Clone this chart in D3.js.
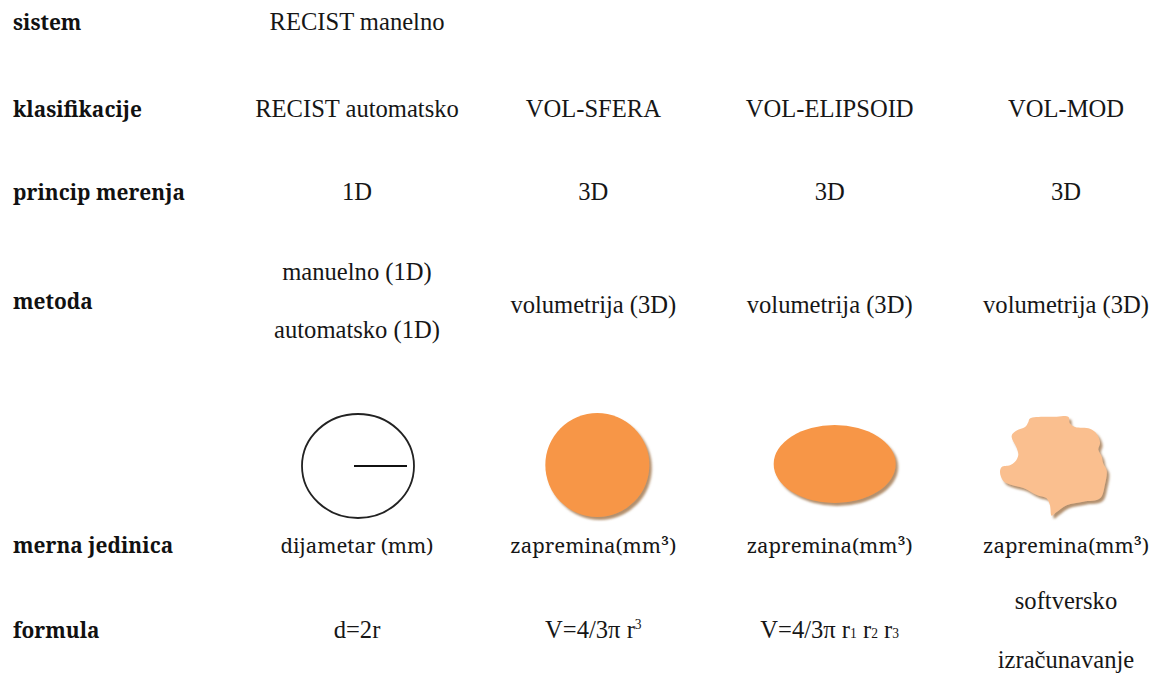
<!DOCTYPE html>
<html>
<head>
<meta charset="utf-8">
<script src="https://cdn.jsdelivr.net/npm/d3@7/dist/d3.min.js"></script>
<style>
  html, body { margin: 0; padding: 0; background: #ffffff; }
  svg { display: block; }
</style>
</head>
<body>
<div id="chart"></div>
<script>
// ---------------- DATA ----------------
const rowKeys = ["sistem", "klasifikacije", "princip", "metoda", "slika", "jedinica", "formula"];
const rowLabels = ["sistem", "klasifikacije", "princip merenja", "metoda", "", "merna jedinica", "formula"];
const columns = ["RECIST", "VOL-SFERA", "VOL-ELIPSOID", "VOL-MOD"];
const systemText = ["RECIST manelno", "", "", ""];
const classifications = ["RECIST automatsko", "VOL-SFERA", "VOL-ELIPSOID", "VOL-MOD"];
const principles = ["1D", "3D", "3D", "3D"];
const methods = [["manuelno (1D)", "automatsko (1D)"], ["volumetrija (3D)"], ["volumetrija (3D)"], ["volumetrija (3D)"]];
const shapeTypes = ["krug", "sfera", "elipsoid", "nepravilno"];
const units = ["dijametar (mm)", "zapremina(mm³)", "zapremina(mm³)", "zapremina(mm³)"];
const formulas = [
  [[{ t: "d=2r" }]],
  [[{ t: "V=4/3π r" }, { t: "3", s: "sup" }]],
  [[{ t: "V=4/3π r" }, { t: "1", s: "sub" }, { t: " r" }, { t: "2", s: "sub" }, { t: " r" }, { t: "3", s: "sub" }]],
  [[{ t: "softversko" }], [{ t: "izračunavanje" }]]
];
// irregular outline (relative units 0..100 inside its box)
const blobOutline = [
  [28,2.4],[53,0.7],[63.8,0.7],[65.4,7.6],[70.1,11.1],[84.1,12.8],[90.4,18],[93.5,26.8],
  [91.9,33.6],[95,40.6],[96.5,47.6],[99.7,54.5],[98.1,68.4],[93.5,82.3],[77.9,85.7],
  [62.3,89.3],[53,96.1],[48.3,99.7],[46.7,89.3],[43.6,82.3],[34.3,78.9],[21.8,71.9],
  [9.3,68.4],[3.1,64.9],[0,56.3],[1.6,51],[9.3,49.3],[14,45.8],[17.1,38.9],[15.6,32],
  [10.9,19.8],[15.6,14.6],[23.4,11.1],[26.5,5.9]
];

// ---------------- FONTS ----------------
const SERIF = `"Liberation Serif", "Times New Roman", serif`;
const WIDE = `"Noto Serif", "Liberation Serif", serif`;
const ctx = document.createElement("canvas").getContext("2d");
function fitSize(font, weight, str, target) {
  ctx.font = `${weight} 24px ${font}`;
  return 24 * target / ctx.measureText(str).width;
}
const FS = fitSize(SERIF, "normal", "volumetrija (3D)", 166);
const FSB = fitSize(WIDE, "bold", "klasifikacije", 129);
const FSU = fitSize(WIDE, "normal", "zapremina(mm³)", 166);

// ---------------- LAYOUT ----------------
const W = 1158, H = 698;
const textColor = "#161616";

const svg = d3.select("#chart").append("svg")
  .attr("width", W).attr("height", H)
  .attr("viewBox", `0 0 ${W} ${H}`);

const defs = svg.append("defs");
const f = defs.append("filter").attr("id", "shadow")
  .attr("x", "-20%").attr("y", "-20%").attr("width", "150%").attr("height", "150%");
f.append("feDropShadow").attr("dx", 2.5).attr("dy", 3).attr("stdDeviation", 1.2)
  .attr("flood-color", "#9a6a3c").attr("flood-opacity", 0.75);

const x = d3.scalePoint().domain(columns).range([357, 1066]);
const y = d3.scaleOrdinal().domain(rowKeys).range([30, 117, 200, 309, 466, 553, 638]);

// row labels
svg.append("g").selectAll("text")
  .data(rowLabels.map((l, i) => ({ l, k: rowKeys[i] })).filter(d => d.l))
  .join("text")
  .attr("x", 13)
  .attr("y", d => y(d.k))
  .style("font-family", WIDE)
  .attr("font-weight", "bold")
  .attr("font-size", FSB)
  .attr("fill", "#111")
  .text(d => d.l);

function cellText(g, arr, key, font, size) {
  g.selectAll(null)
    .data(arr.map((t, i) => ({ t, c: columns[i] })).filter(d => d.t))
    .join("text")
    .attr("x", d => x(d.c))
    .attr("y", y(key))
    .attr("text-anchor", "middle")
    .style("font-family", font)
    .attr("font-size", size)
    .attr("fill", textColor)
    .text(d => d.t);
}

const body = svg.append("g");
cellText(body.append("g"), systemText, "sistem", SERIF, FS);
cellText(body.append("g"), classifications, "klasifikacije", SERIF, FS);
cellText(body.append("g"), principles, "princip", SERIF, FS);
cellText(body.append("g"), units, "jedinica", WIDE, FSU);

// methods (multi-line)
const lineGap = 58;
methods.forEach((lines, i) => {
  const n = lines.length;
  lines.forEach((t, j) => {
    body.append("text")
      .attr("x", x(columns[i]))
      .attr("y", y("metoda") + 4 + (j - (n - 1) / 2) * lineGap - (n > 1 ? 4 : 0))
      .attr("text-anchor", "middle")
      .style("font-family", SERIF)
      .attr("font-size", FS)
      .attr("fill", textColor)
      .text(t);
  });
});

// formulas (with sub/superscripts, multi-line)
const fGap = 59;
formulas.forEach((lines, i) => {
  const n = lines.length;
  lines.forEach((segs, j) => {
    const t = body.append("text")
      .attr("x", x(columns[i]))
      .attr("y", y("formula") + (j - (n - 1) / 2) * fGap)
      .attr("text-anchor", "middle")
      .style("font-family", SERIF)
      .attr("font-size", FS)
      .attr("fill", textColor);
    segs.forEach(s => {
      const ts = t.append("tspan").text(s.t);
      if (s.s === "sup") ts.attr("font-size", FS * 0.55).attr("baseline-shift", "9");
      if (s.s === "sub") ts.attr("font-size", FS * 0.55).attr("baseline-shift", "0");
    });
  });
});

// shapes row
const cy = y("slika");
const shapesG = svg.append("g");
shapeTypes.forEach((type, i) => {
  const cx = x(columns[i]);
  if (type === "krug") {
    shapesG.append("ellipse")
      .attr("cx", cx + 1).attr("cy", cy)
      .attr("rx", 56).attr("ry", 52)
      .attr("fill", "none").attr("stroke", "#222").attr("stroke-width", 1.8);
    shapesG.append("line")
      .attr("x1", cx - 3).attr("x2", cx + 50)
      .attr("y1", cy).attr("y2", cy)
      .attr("stroke", "#111").attr("stroke-width", 2);
  } else if (type === "sfera") {
    shapesG.append("circle")
      .attr("cx", cx + 4).attr("cy", cy - 1).attr("r", 52)
      .attr("fill", "#f79646").attr("filter", "url(#shadow)");
  } else if (type === "elipsoid") {
    shapesG.append("ellipse")
      .attr("cx", cx + 5).attr("cy", cy - 2)
      .attr("rx", 61).attr("ry", 39)
      .attr("fill", "#f79646").attr("filter", "url(#shadow)");
  } else {
    const bx = d3.scaleLinear().domain([0, 100]).range([cx - 66, cx + 41]);
    const by = d3.scaleLinear().domain([0, 100]).range([cy - 50, cy + 50]);
    const line = d3.line().x(d => bx(d[0])).y(d => by(d[1])).curve(d3.curveCatmullRomClosed.alpha(0.5));
    shapesG.append("path")
      .attr("d", line(blobOutline))
      .attr("fill", "#fabf8f").attr("filter", "url(#shadow)");
  }
});
</script>
</body>
</html>
